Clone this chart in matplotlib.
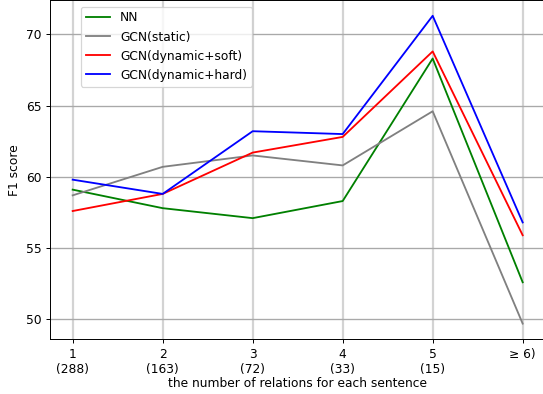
import matplotlib
matplotlib.use("Agg")
import matplotlib.pyplot as plt

# %% Datos
x = [1, 2, 3, 4, 5, 6]
etiquetas_x = ["1\n(288)", "2\n(163)", "3\n(72)", "4\n(33)", "5\n(15)", "≥ 6)"]

nn = [59.1, 57.8, 57.1, 58.3, 68.3, 52.6]
gcn_static = [58.7, 60.7, 61.5, 60.8, 64.6, 49.7]
gcn_soft = [57.6, 58.8, 61.7, 62.8, 68.8, 55.9]
gcn_hard = [59.8, 58.8, 63.2, 63.0, 71.3, 56.8]

# %% Gráfico
fig = plt.figure(figsize=(6.1705, 4.4773), dpi=88)
ax = fig.add_axes([0.0924, 0.1396, 0.9116, 0.8594])

ax.plot(x, nn, color="green", label="NN")
ax.plot(x, gcn_static, color="gray", label="GCN(static)")
ax.plot(x, gcn_soft, color="red", label="GCN(dynamic+soft)")
ax.plot(x, gcn_hard, color="blue", label="GCN(dynamic+hard)")

ax.set_xticks(x)
ax.set_xticklabels(etiquetas_x)
ax.set_yticks([50, 55, 60, 65, 70])
ax.set_xlabel("the number of relations for each sentence", labelpad=1.5)
ax.set_ylabel("F1 score")

ax.xaxis.grid(True, color="lightgray", linewidth=1.8)
ax.yaxis.grid(True, color="darkgray", linewidth=1.1)
ax.set_axisbelow(True)

ax.legend(loc="upper left", bbox_to_anchor=(0.05, 1.0))

fig.savefig("out.png", dpi=88)
plt.close(fig)
